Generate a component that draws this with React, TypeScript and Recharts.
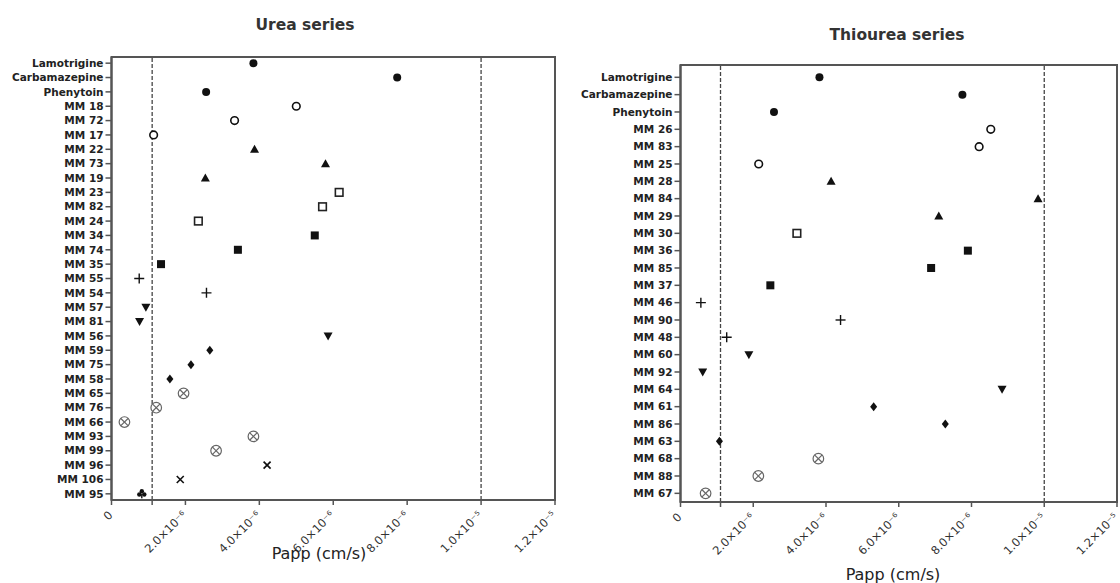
import React from 'react';
import { ScatterChart, Scatter, XAxis, YAxis, ReferenceLine, ReferenceArea } from 'recharts';

// ---------- Urea series ----------
const ureaCompounds = [
  'Lamotrigine', 'Carbamazepine', 'Phenytoin', 'MM 18', 'MM 72', 'MM 17', 'MM 22', 'MM 73', 'MM 19',
  'MM 23', 'MM 82', 'MM 24', 'MM 34', 'MM 74', 'MM 35', 'MM 55', 'MM 54', 'MM 57', 'MM 81', 'MM 56',
  'MM 59', 'MM 75', 'MM 58', 'MM 65', 'MM 76', 'MM 66', 'MM 93', 'MM 99', 'MM 96', 'MM 106', 'MM 95',
];
const ureaPapp = [
  3.84e-6, 7.73e-6, 2.56e-6, 5.0e-6, 3.33e-6, 1.14e-6, 3.87e-6, 5.79e-6, 2.54e-6,
  6.16e-6, 5.71e-6, 2.35e-6, 5.5e-6, 3.42e-6, 1.34e-6, 0.75e-6, 2.57e-6, 0.93e-6, 0.76e-6, 5.86e-6,
  2.66e-6, 2.15e-6, 1.58e-6, 1.95e-6, 1.21e-6, 0.35e-6, 3.84e-6, 2.83e-6, 4.21e-6, 1.86e-6, 0.82e-6,
];
const ureaGroupSizes = [3, 3, 3, 3, 3, 2, 3, 3, 5, 2, 1];
const ureaGroupMarkers = ['dot', 'ring', 'triangle', 'openSquare', 'square', 'plus', 'down', 'diamond', 'otimes', 'xmark', 'club'];

// ---------- Thiourea series ----------
const thioureaCompounds = [
  'Lamotrigine', 'Carbamazepine', 'Phenytoin', 'MM 26', 'MM 83', 'MM 25', 'MM 28', 'MM 84', 'MM 29',
  'MM 30', 'MM 36', 'MM 85', 'MM 37', 'MM 46', 'MM 90', 'MM 48', 'MM 60', 'MM 92', 'MM 64',
  'MM 61', 'MM 86', 'MM 63', 'MM 68', 'MM 88', 'MM 67',
];
const thioureaPapp = [
  3.82e-6, 7.75e-6, 2.57e-6, 8.53e-6, 8.21e-6, 2.15e-6, 4.14e-6, 9.83e-6, 7.10e-6,
  3.2e-6, 7.9e-6, 6.89e-6, 2.47e-6, 0.56e-6, 4.4e-6, 1.27e-6, 1.88e-6, 0.61e-6, 8.84e-6,
  5.31e-6, 7.28e-6, 1.07e-6, 3.79e-6, 2.14e-6, 0.69e-6,
];
const thioureaGroupSizes = [3, 3, 3, 1, 3, 3, 3, 3, 3];
const thioureaGroupMarkers = ['dot', 'ring', 'triangle', 'openSquare', 'square', 'plus', 'down', 'diamond', 'otimes'];

// ---------- Axis ----------
const xTicks = [0, 1.1e-6, 2e-6, 4e-6, 6e-6, 8e-6, 1e-5, 1.2e-5];
const xTickLabels = ['0', '', '2.0×10⁻⁶', '4.0×10⁻⁶', '6.0×10⁻⁶', '8.0×10⁻⁶', '1.0×10⁻⁵', '1.2×10⁻⁵'];
const thresholds = [1.1e-6, 1e-5];

const FONT = 'DejaVu Sans';
const AXIS = '#555';

function buildGroups(papp: number[], sizes: number[]) {
  const groups: { x: number; y: number }[][] = [];
  let start = 0;
  sizes.forEach((n) => {
    const s = start;
    groups.push(papp.slice(s, s + n).map((v, i) => ({ x: v, y: s + i })));
    start += n;
  });
  return groups;
}

function renderMarker(kind: string) {
  return (p: any) => {
    const cx = p.cx as number;
    const cy = p.cy as number;
    const k = '#111';
    switch (kind) {
      case 'dot':
        return <circle cx={cx} cy={cy} r={4} fill={k} />;
      case 'ring':
        return <circle cx={cx} cy={cy} r={3.8} fill="#fff" stroke={k} strokeWidth={1.6} />;
      case 'triangle':
        return <polygon points={`${cx},${cy - 4.5} ${cx + 4.5},${cy + 3.5} ${cx - 4.5},${cy + 3.5}`} fill={k} />;
      case 'down':
        return <polygon points={`${cx - 4.5},${cy - 3.5} ${cx + 4.5},${cy - 3.5} ${cx},${cy + 4.5}`} fill={k} />;
      case 'openSquare':
        return <rect x={cx - 3.8} y={cy - 3.8} width={7.6} height={7.6} fill="#fff" stroke="#222" strokeWidth={1.6} />;
      case 'square':
        return <rect x={cx - 4} y={cy - 4} width={8} height={8} fill={k} />;
      case 'plus':
        return (
          <g stroke={k} strokeWidth={1.4}>
            <line x1={cx - 5} y1={cy} x2={cx + 5} y2={cy} />
            <line x1={cx} y1={cy - 5} x2={cx} y2={cy + 5} />
          </g>
        );
      case 'diamond':
        return <polygon points={`${cx},${cy - 4.5} ${cx + 3.5},${cy} ${cx},${cy + 4.5} ${cx - 3.5},${cy}`} fill={k} />;
      case 'otimes':
        return (
          <g stroke="#666" strokeWidth={1.2} fill="#fff">
            <circle cx={cx} cy={cy} r={5.3} />
            <line x1={cx - 3.6} y1={cy - 3.6} x2={cx + 3.6} y2={cy + 3.6} />
            <line x1={cx - 3.6} y1={cy + 3.6} x2={cx + 3.6} y2={cy - 3.6} />
          </g>
        );
      case 'xmark':
        return (
          <g stroke={k} strokeWidth={1.6}>
            <line x1={cx - 3.5} y1={cy - 3.5} x2={cx + 3.5} y2={cy + 3.5} />
            <line x1={cx - 3.5} y1={cy + 3.5} x2={cx + 3.5} y2={cy - 3.5} />
          </g>
        );
      case 'club':
        return (
          <g fill={k}>
            <circle cx={cx} cy={cy - 2.6} r={2.2} />
            <circle cx={cx - 2.5} cy={cy + 0.6} r={2.2} />
            <circle cx={cx + 2.5} cy={cy + 0.6} r={2.2} />
            <rect x={cx - 0.7} y={cy} width={1.4} height={4.5} />
          </g>
        );
      default:
        return <circle cx={cx} cy={cy} r={4} fill={k} />;
    }
  };
}

const XTick = (props: any) => {
  const { x, y, payload } = props;
  const idx = xTicks.indexOf(payload.value);
  const label = idx >= 0 ? xTickLabels[idx] : '';
  if (!label) return null;
  return (
    <g transform={`translate(${x - 1},${y + 6})`}>
      <text transform="rotate(-45)" textAnchor="end" dy={4} fontSize={11.5} fontFamily={FONT} fill="#333">
        {label}
      </text>
    </g>
  );
};

interface PanelProps {
  compounds: string[];
  papp: number[];
  sizes: number[];
  markers: string[];
  width: number;
  height: number;
  top: number;
  right: number;
  yAxisWidth: number;
  xAxisHeight: number;
  yDomain: [number, number];
}

function Panel(props: PanelProps) {
  const groups = buildGroups(props.papp, props.sizes);
  const yTicks = props.compounds.map((_, i) => i);
  return (
    <ScatterChart
      width={props.width}
      height={props.height}
      margin={{ top: props.top, right: props.right, bottom: 0, left: 0 }}
    >
      <XAxis
        type="number"
        dataKey="x"
        domain={[0, 1.2e-5]}
        ticks={xTicks}
        interval={0}
        allowDataOverflow
        height={props.xAxisHeight}
        tick={<XTick />}
        tickSize={5}
        tickLine={{ stroke: AXIS, strokeWidth: 1.5 }}
        axisLine={{ stroke: AXIS, strokeWidth: 2 }}
      />
      <YAxis
        type="number"
        dataKey="y"
        domain={props.yDomain}
        reversed
        allowDataOverflow
        ticks={yTicks}
        interval={0}
        width={props.yAxisWidth}
        tickFormatter={(v: number) => props.compounds[v] ?? ''}
        tick={{ fill: '#222', fontSize: 10.5, fontFamily: FONT, fontWeight: 'bold' }}
        tickSize={6}
        tickLine={{ stroke: AXIS, strokeWidth: 1.5 }}
        axisLine={{ stroke: AXIS, strokeWidth: 2 }}
      />
      <ReferenceArea
        x1={0}
        x2={1.2e-5}
        y1={props.yDomain[0]}
        y2={props.yDomain[1]}
        fill="none"
        stroke={AXIS}
        strokeWidth={2}
        ifOverflow="visible"
      />
      {thresholds.map((t) => (
        <ReferenceLine key={t} x={t} stroke="#444" strokeWidth={1.3} strokeDasharray="4 2" />
      ))}
      {groups.map((g, i) => (
        <Scatter
          key={i}
          data={g}
          isAnimationActive={false}
          shape={renderMarker(props.markers[i])}
        />
      ))}
    </ScatterChart>
  );
}

const titleStyle: React.CSSProperties = {
  position: 'absolute',
  fontFamily: FONT,
  fontWeight: 'bold',
  fontSize: 15.5,
  color: '#333',
  transform: 'translate(-50%, -50%)',
  whiteSpace: 'nowrap',
};
const labelStyle: React.CSSProperties = {
  position: 'absolute',
  fontFamily: FONT,
  fontSize: 16,
  color: '#222',
  transform: 'translate(-50%, -50%)',
  whiteSpace: 'nowrap',
};

export default function App() {
  return (
    <div style={{ position: 'absolute', left: 0, top: 0, width: 1120, height: 583, background: '#fff', overflow: 'hidden' }}>
      <div style={{ position: 'absolute', left: 0, top: 0 }}>
        <Panel
          compounds={ureaCompounds}
          papp={ureaPapp}
          sizes={ureaGroupSizes}
          markers={ureaGroupMarkers}
          width={580}
          height={583}
          top={57}
          right={25}
          yAxisWidth={111.5}
          xAxisHeight={83}
          yDomain={[-0.43, 30.43]}
        />
      </div>
      <div style={{ position: 'absolute', left: 560, top: 0 }}>
        <Panel
          compounds={thioureaCompounds}
          papp={thioureaPapp}
          sizes={thioureaGroupSizes}
          markers={thioureaGroupMarkers}
          width={560}
          height={583}
          top={65}
          right={3}
          yAxisWidth={120.5}
          xAxisHeight={81}
          yDomain={[-0.71, 24.5]}
        />
      </div>
      <div style={{ ...titleStyle, left: 305, top: 25 }}>Urea series</div>
      <div style={{ ...titleStyle, left: 897, top: 35 }}>Thiourea series</div>
      <div style={{ ...labelStyle, left: 319, top: 553 }}>Papp (cm/s)</div>
      <div style={{ ...labelStyle, left: 893, top: 574 }}>Papp (cm/s)</div>
    </div>
  );
}
